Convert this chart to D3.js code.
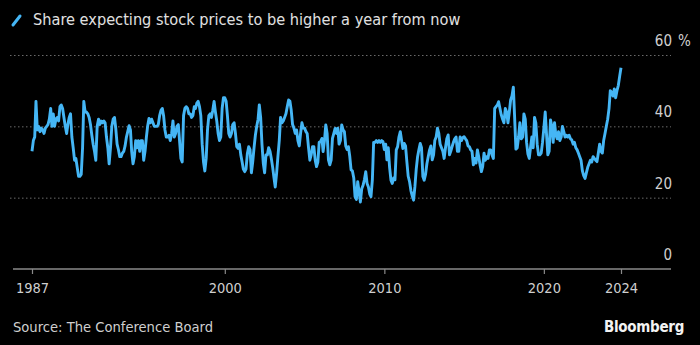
<!DOCTYPE html>
<html>
<head>
<meta charset="utf-8">
<script src="https://cdn.jsdelivr.net/npm/d3@7/dist/d3.min.js"></script>
<style>
  html, body { margin: 0; padding: 0; background: #000; }
  svg { display: block; }
  text { font-family: "DejaVu Sans Condensed", "Liberation Sans Narrow", sans-serif; }
</style>
</head>
<body>
<svg id="chart" width="700" height="345"></svg>
<script>
(function () {
    // 월별 응답 비율 (%), 1987-12 부터 2024-11 까지. 한 줄 = 한 해.
    var firstMonth = [1987, 11];   // [year, monthIndex]
    var share = [
        33,
        36, 37, 47, 39, 40, 38.5, 39.5, 39, 38, 39.5, 40, 40.5,
        42, 45, 40, 43.5, 40, 42, 42.5, 41.5, 45.5, 46, 45, 42.5,
        40, 38, 40.5, 42.5, 43.5, 37, 34, 30.5, 31, 28.5, 26, 26,
        26.5, 34, 47, 44, 44, 43.5, 42.5, 40.5, 37.5, 35, 33, 30.5,
        40, 42, 40.5, 41.5, 41, 41.5, 41, 37, 34, 29.5, 34, 40,
        42, 42.5, 39.5, 35, 33.5, 31.5, 31.5, 32.5, 33, 34.5, 37, 38.5,
        40.2, 39, 33, 29.5, 31.5, 36, 34, 36, 33, 36, 36, 30.5,
        33, 37, 40, 42.2, 41, 42, 41, 40, 40, 40, 40.5, 43,
        44.5, 45, 43, 39, 37, 37, 37.5, 36, 38, 41.5, 37, 38,
        40, 40.5, 36, 31, 30, 43, 45, 45.5, 45, 43.5, 43.5, 42.5,
        43, 45.5, 45, 46.5, 47, 45.5, 43, 35, 30, 27.5, 31, 39,
        43, 43.5, 42.5, 44.5, 47, 44, 41.5, 38, 36, 37, 45, 48,
        48, 47, 43, 38, 37, 38, 40.5, 41, 38, 34.3, 33.8, 35,
        32, 30, 28, 27.3, 28, 32.4, 34.3, 33.5, 27, 30, 34, 37.5,
        40, 42, 46, 42.5, 35, 29.6, 27, 32, 32, 34, 33, 31,
        28.5, 25.5, 23, 26.8, 31.5, 36, 42.5, 41, 41.5, 42.5, 43.5, 45.5,
        47.4, 47, 44.5, 40.5, 39.5, 38, 39, 36, 34.5, 38, 41, 39.5,
        39.5, 38.5, 38, 34, 30.5, 32, 34.3, 34.3, 30.5, 28.7, 30, 35.5,
        35.7, 36.6, 32.9, 36, 40.4, 38, 30.6, 29.2, 30.5, 36.6, 38, 39.4,
        38, 39.5, 35, 36, 40.4, 39, 38.5, 34.5, 33.5, 34.3, 31.6, 27.8,
        27.5, 25.5, 20.3, 19.5, 24.5, 21.7, 18.8, 22.5, 23.5, 25, 27.3, 24,
        23, 21, 20.3, 24.9, 35.5, 35.5, 36, 35.5, 36, 35.5, 36, 35.7,
        33.5, 35, 30.6, 34, 28.5, 24.9, 24, 25.5, 25, 33.4, 34.3, 37,
        38.5, 36, 33.8, 35.2, 34.5, 30, 26, 24.5, 22, 20.5, 19.3, 23,
        28, 31.5, 33.4, 35.2, 34, 25.9, 24.9, 26.5, 29.5, 31.5, 33.4, 34.5,
        30.6, 32, 36, 37, 39.5, 38, 35, 34, 33, 31, 34, 36.5,
        37.6, 32, 33, 34.3, 35.5, 36.5, 37, 33, 33, 37, 36, 36.8,
        37.1, 36.5, 36, 34.5, 34.3, 33.4, 33, 29.2, 31, 29.7, 33.4, 31.5,
        29.2, 27.3, 28.7, 32.5, 30.5, 31.5, 31, 33.4, 33.4, 32, 31, 45,
        45.5, 46, 46.9, 45, 43.2, 42, 41, 45, 44, 41, 44, 47.4,
        48.5, 51, 43, 33.6, 34, 37, 41, 36.5, 37, 43.5, 42, 35.5,
        32.2, 31, 34, 37, 34, 42.5, 41, 35, 32, 32, 32.5, 35.5,
        39.5, 44, 38, 32, 33, 41.8, 40, 35.5, 41, 37.6, 36.5, 38.5,
        36, 37, 40, 38.5, 37, 37.5, 37, 37.5, 36.5, 36.2, 35, 35.5,
        34, 33.4, 32.5, 31.5, 30.5, 27.5, 26.2, 25.4, 27, 28.5, 29.5, 30.5,
        30, 31.5, 31, 30.5, 30.1, 32.5, 35, 33, 32.5, 36, 38, 40,
        42, 45, 50, 49.5, 48.5, 50.5, 48, 50, 51.5, 54, 56.4
    ];
    var yTicks = [0, 20, 40, 60];
    var xTickYears = [2000, 2010, 2020];

    var TITLE = 'Share expecting stock prices to be higher a year from now';
    var SOURCE = 'Source: The Conference Board';
    var LINE = '#45b6f5';

    var data = share.map(function (v, i) {
        return { date: new Date(firstMonth[0], firstMonth[1] + i, 1), value: v };
    });
    var first = data[0].date;
    var last = data[data.length - 1].date;

    var svg = d3.select('#chart');

    var x = d3.scaleTime().domain([first, last]).range([32, 621]);
    var y = d3.scaleLinear().domain([0, 60]).range([269, 55]);

    // 제목 + 범례 사선
    svg.append('line')
        .attr('x1', 13).attr('y1', 25).attr('x2', 20).attr('y2', 16)
        .attr('stroke', LINE).attr('stroke-width', 3).attr('stroke-linecap', 'round');
    svg.append('text')
        .attr('x', 33).attr('y', 25)
        .attr('fill', '#e0e0e0').attr('font-size', 16.2)
        .text(TITLE);

    // 점선 그리드
    svg.append('g').selectAll('line')
        .data(yTicks.filter(function (d) { return d > 0; }))
        .join('line')
        .attr('x1', 10).attr('x2', 671)
        .attr('y1', function (d) { return y(d) + 0.5; })
        .attr('y2', function (d) { return y(d) + 0.5; })
        .attr('stroke', '#6a6a6a').attr('stroke-width', 1)
        .attr('stroke-dasharray', '1.5,2.5');

    // y 라벨 (그리드선 위, 오른쪽)
    svg.append('g').selectAll('text')
        .data(yTicks)
        .join('text')
        .attr('x', 672)
        .attr('y', function (d) { return y(d) - 9; })
        .attr('text-anchor', 'end')
        .attr('fill', '#d0d0d0').attr('font-size', 15)
        .text(function (d) { return d; });
    svg.append('text')
        .attr('x', 678).attr('y', y(60) - 9)
        .attr('fill', '#d0d0d0').attr('font-size', 15)
        .text('%');

    // 데이터 선
    var line = d3.line()
        .x(function (d) { return x(d.date); })
        .y(function (d) { return y(d.value); });
    svg.append('path')
        .datum(data)
        .attr('fill', 'none')
        .attr('stroke', LINE)
        .attr('stroke-width', 2.9)
        .attr('stroke-linejoin', 'round')
        .attr('d', line);

    // x 축: 처음/끝 데이터 + 10년 단위
    var tickDates = [first].concat(xTickYears.map(function (yr) { return new Date(yr, 0, 1); }), [last]);
    var xAxis = d3.axisBottom(x)
        .tickValues(tickDates)
        .tickSize(5)
        .tickPadding(9)
        .tickFormat(d3.timeFormat('%Y'));
    var gx = svg.append('g')
        .attr('transform', 'translate(0,' + y(0) + ')')
        .call(xAxis);
    gx.select('.domain').remove();
    gx.insert('line', ':first-child')
        .attr('x1', 13).attr('x2', 671)
        .attr('stroke', '#8a8a8a').attr('stroke-width', 1.5);
    gx.selectAll('.tick line').attr('stroke', '#8a8a8a').attr('stroke-width', 1.2);
    gx.selectAll('.tick text')
        .attr('fill', '#cfcfcf')
        .attr('font-size', 14.5)
        .attr('font-family', null);

    // 출처, 로고
    svg.append('text')
        .attr('x', 13).attr('y', 332)
        .attr('fill', '#cfcfcf').attr('font-size', 14.6)
        .text(SOURCE);
    svg.append('text')
        .attr('x', 684).attr('y', 332)
        .attr('text-anchor', 'end')
        .attr('fill', '#f2f2f2').attr('font-size', 15).attr('font-weight', 700)
        .attr('font-family', '"Liberation Sans", "DejaVu Sans", sans-serif')
        .attr('letter-spacing', -0.3)
        .text('Bloomberg');
})();
</script>
</body>
</html>
